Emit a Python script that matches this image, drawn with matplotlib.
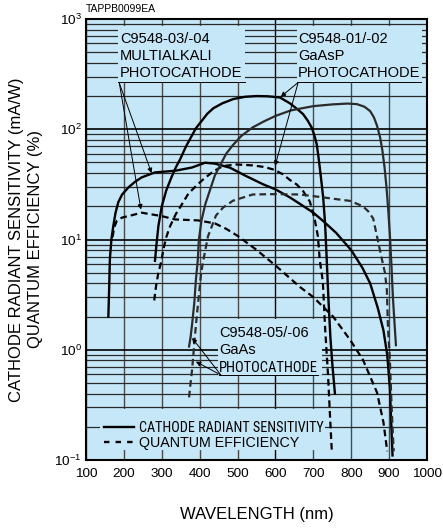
import matplotlib
matplotlib.use('Agg')
import matplotlib.pyplot as plt
from matplotlib.patches import Rectangle
from matplotlib.lines import Line2D
from matplotlib.ticker import LogLocator, NullFormatter
from matplotlib import font_manager

# ---------------- data ----------------
xticks = [100, 200, 300, 400, 500, 600, 700, 800, 900, 1000]

# C9548-03/-04 multialkali
ma_crs_wl = [159, 161, 163, 167, 172, 178, 185, 195, 212, 230, 247, 282, 335, 380, 414, 440,
             480, 520, 568, 600, 638, 665, 700, 726, 760, 800, 830, 850, 870, 885, 895, 902, 906, 909]
ma_crs = [2.0, 3.5, 6.6, 10.0, 13.2, 17.5, 21.7, 25.5, 29.7, 33.5, 36.6, 40.6, 42.0, 45.0, 49.7, 48.8,
          44.8, 38.0, 31.6, 28.5, 24.1, 21.0, 17.5, 14.7, 11.5, 8.0, 5.5, 4.0, 2.4, 1.5, 0.9, 0.45, 0.2, 0.11]
ma_qe_wl = [170, 175, 181, 195, 212, 247, 300, 335, 396, 440, 470, 500, 549, 603, 665, 700,
            752, 797, 831, 868, 885, 895]
ma_qe = [10.5, 13.0, 14.7, 15.8, 16.3, 17.5, 16.3, 15.2, 14.9, 14.0, 12.5, 10.8, 8.1, 5.7, 3.7, 3.0,
         2.0, 1.23, 0.81, 0.41, 0.22, 0.12]

# C9548-01/-02 GaAsP
gaasp_crs_wl = [282, 286, 291, 300, 312, 326, 337, 348, 364, 390, 420, 436, 460, 489, 520, 550, 580, 612,
                638, 660, 673, 685, 696, 704, 709, 713, 717, 722, 726, 731, 735, 740, 745, 750, 757]
gaasp_crs = [6.4, 9.0, 13.2, 20.0, 28.0, 37.0, 45.0, 53.0, 70.0, 102, 138, 155, 172, 188, 197, 200, 199, 194,
             172, 150, 137, 120, 103, 85, 73, 58, 45, 32, 24, 14, 7.0, 2.8, 1.3, 0.75, 0.4]
gaasp_qe_wl = [280, 285, 291, 298, 305, 311, 322, 337, 348, 370, 392, 409, 436, 462, 497, 540, 570,
               596, 620, 638, 656, 673, 691, 704, 712, 717, 721, 725, 731, 735, 739, 744, 749]
gaasp_qe = [2.8, 3.8, 5.0, 6.2, 8.3, 10.3, 13.2, 17.0, 19.5, 26.0, 31.0, 35.0, 41.5, 46.4, 47.9, 47.0, 45.5,
            43.0, 39.0, 34.7, 31.6, 27.5, 22.0, 15.0, 10.7, 6.5, 5.2, 4.2, 1.6, 0.95, 0.57, 0.25, 0.116]

# C9548-05/-06 GaAs
gaas_crs_wl = [372, 376, 380, 386, 390, 395, 398, 405, 415, 430, 440, 451, 470, 488, 510, 540, 570, 600,
               640, 670, 700, 750, 790, 815, 835, 850, 860, 868, 876, 882, 888, 893, 898, 902, 906, 910, 914, 918]
gaas_crs = [1.07, 1.3, 1.7, 2.7, 4.3, 6.5, 10, 15, 21, 30, 38, 45, 60, 72, 87, 104, 118, 132,
            148, 155, 162, 168, 171, 169, 160, 146, 128, 108, 85, 65, 45, 30, 18, 11, 6, 3, 1.8, 1.1]
gaas_qe_wl = [372, 376, 380, 386, 391, 396, 404, 409, 422, 443, 462, 488, 540, 600, 665, 726, 770, 797,
              831, 845, 858, 868, 881, 889, 894, 897, 902, 907, 910, 912]
gaas_qe = [0.37, 0.5, 0.66, 1.16, 1.8, 2.7, 5.0, 6.3, 10.7, 16.5, 19.5, 22.5, 25.6, 25.8, 25.6, 24.1, 23.0, 22.4,
           20.0, 18.0, 15.5, 10.7, 6.6, 5.0, 3.5, 1.6, 0.81, 0.28, 0.17, 0.12]

label_ma = "C9548-03/-04\nMULTIALKALI\nPHOTOCATHODE"
label_gaasp = "C9548-01/-02\nGaAsP\nPHOTOCATHODE"
label_gaas_top = "C9548-05/-06\nGaAs"
label_gaas_bottom = "PHOTOCATHODE"
legend_labels = ["CATHODE RADIANT SENSITIVITY", "QUANTUM EFFICIENCY"]

# ---------------- fonts ----------------
plt.rcParams['font.family'] = ['Liberation Sans', 'DejaVu Sans']


def find_condensed():
    names = {f.name: f for f in font_manager.fontManager.ttflist}
    for cand in ['Liberation Sans Narrow', 'Arial Narrow', 'Roboto Condensed', 'Open Sans Condensed',
                 'Noto Sans Condensed', 'DejaVu Sans Condensed']:
        if cand in names:
            return font_manager.FontProperties(fname=names[cand].fname)
    for f in font_manager.fontManager.ttflist:
        st = f.stretch
        cond = (isinstance(st, str) and 'condensed' in st and 'expanded' not in st) or \
               (isinstance(st, (int, float)) and st < 500)
        if cond and f.style == 'normal' and f.weight in (400, 'normal', 'regular', 'book'):
            return font_manager.FontProperties(fname=f.fname)
    return font_manager.FontProperties(family='Liberation Sans')


COND = find_condensed()

BG = '#c6e7f8'
DASH = (0, (3, 1.8))

fig = plt.figure(figsize=(4.43, 5.31), dpi=100)
ax = fig.add_axes([86/443, 1 - 460/531, 341/443, 441/531])
ax.set_facecolor(BG)
ax.set_yscale('log')
ax.set_xlim(100, 1000)
ax.set_ylim(0.1, 1000)
ax.set_xticks(xticks)
ax.yaxis.set_major_locator(LogLocator(base=10, numticks=10))
ax.yaxis.set_minor_locator(LogLocator(base=10, subs=range(2, 10), numticks=40))
ax.yaxis.set_minor_formatter(NullFormatter())
ax.set_axisbelow(True)
ax.grid(True, which='major', axis='y', color='k', lw=1.2)
ax.grid(True, which='minor', axis='y', color='#2a2a2a', lw=0.9)
ax.grid(True, which='major', axis='x', color='#4a4a4a', lw=1.0)
ax.get_xgridlines()[5].set_color('k')
ax.tick_params(which='both', length=0)
ax.tick_params(axis='x', labelsize=9.7, pad=6)
ax.tick_params(axis='y', labelsize=9.7, pad=3)
for s in ax.spines.values():
    s.set_linewidth(1.5)

# background boxes behind labels (hide grid)
for (x0, x1, y0, y1) in [(184, 519, 266, 870), (657, 987, 266, 870), (448, 723, 0.59, 1.9),
                         (137, 731, 0.123, 0.29)]:
    ax.add_patch(Rectangle((x0, y0), x1 - x0, y1 - y0, facecolor=BG, edgecolor='none', zorder=1.5))

# curves
ax.plot(ma_crs_wl, ma_crs, color='k', lw=1.7, zorder=3)
ax.plot(ma_qe_wl, ma_qe, color='k', lw=1.6, ls=DASH, zorder=3)
ax.plot(gaasp_crs_wl, gaasp_crs, color='k', lw=1.7, zorder=3)
ax.plot(gaasp_qe_wl, gaasp_qe, color='k', lw=1.6, ls=DASH, zorder=3)
ax.plot(gaas_crs_wl, gaas_crs, color='#2b2b2b', lw=1.6, zorder=3)
ax.plot(gaas_qe_wl, gaas_qe, color='#2b2b2b', lw=1.6, ls=DASH, zorder=3)

# labels with leaders
TXT = dict(fontsize=10.5, ha='left', va='center', linespacing=1.25, zorder=4)
AP = dict(arrowstyle='-|>', lw=0.7, color='k', mutation_scale=7, shrinkA=0, shrinkB=0)

ax.text(190, 460, label_ma, **TXT)
ax.plot([184, 519], [266, 266], color='k', lw=0.7, zorder=4)
ax.annotate('', xy=(273, 40), xytext=(188, 262), arrowprops=AP, zorder=4)
ax.annotate('', xy=(245, 18.7), xytext=(188, 262), arrowprops=AP, zorder=4)

ax.text(660, 460, label_gaasp, **TXT)
ax.plot([657, 985], [266, 266], color='k', lw=0.7, zorder=4)
ax.annotate('', xy=(614, 197), xytext=(660, 266), arrowprops=AP, zorder=4)
ax.annotate('', xy=(599, 46.5), xytext=(660, 266), arrowprops=AP, zorder=4)

ax.text(451, 1.18, label_gaas_top, **TXT)
t_gaas3 = ax.text(451, 0.68, label_gaas_bottom, fontproperties=COND, fontsize=10.5,
                  ha='left', va='center', zorder=4)
ax.plot([451, 712], [0.59, 0.59], color='k', lw=0.7, zorder=4)
ax.annotate('', xy=(380, 1.28), xytext=(456, 0.59), arrowprops=AP, zorder=4)
ax.annotate('', xy=(390, 0.78), xytext=(456, 0.59), arrowprops=AP, zorder=4)

# legend
handles = [Line2D([], [], color='k', lw=1.7), Line2D([], [], color='k', lw=1.7, ls=(0, (2.3, 2.6)))]
leg = ax.legend(handles, legend_labels, loc='lower left', bbox_to_anchor=(0.0528, 0.022),
                frameon=False, fontsize=10.3, handlelength=2.1, handletextpad=0.35,
                labelspacing=0.1, borderpad=0, borderaxespad=0)
leg.set_zorder(5)
t_leg0 = leg.get_texts()[0]
t_leg0.set_fontproperties(COND)
t_leg0.set_fontsize(10.3)

# axis labels
ax.set_xlabel('WAVELENGTH (nm)', fontsize=12, va='center')
ax.xaxis.set_label_coords(0.5, (460 - 515) / 441)
ax.set_ylabel('CATHODE RADIANT SENSITIVITY (mA/W)\nQUANTUM EFFICIENCY (%)', fontsize=12,
              va='center', linespacing=1.3)
ax.yaxis.set_label_coords((26 - 86) / 341, 0.5)

fig.text(86/443, 1 - 9/531, 'TAPPB0099EA', fontsize=7.5, ha='left', va='center')

# narrow texts: keep within reference widths (px)
fig.canvas.draw()
rend = fig.canvas.get_renderer()
for t, target in [(t_leg0, 184), (t_gaas3, 99)]:
    w = t.get_window_extent(rend).width
    if w > target:
        t.set_fontsize(t.get_fontsize() * target / w)

fig.savefig('out.png', dpi=100)
